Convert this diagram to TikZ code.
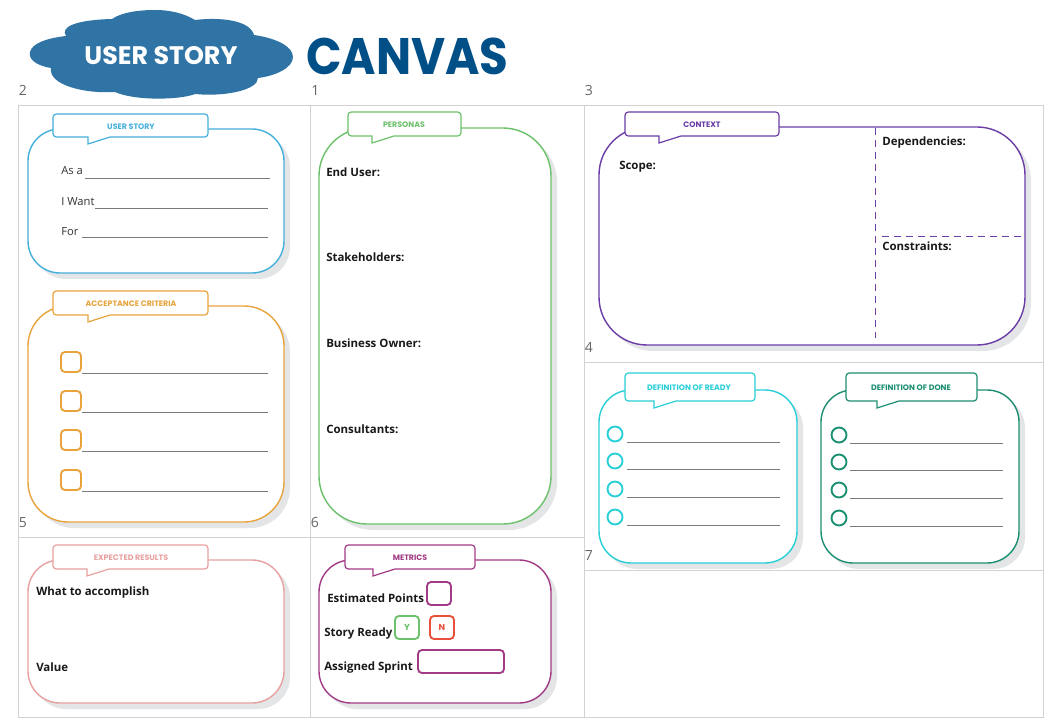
\documentclass[tikz,border=0pt]{standalone}
\usepackage{fontspec}
\setmainfont{Open Sans}
\newfontfamily\tabfont{Poppins}
\definecolor{gridgrey}{HTML}{D2D2D2}
\definecolor{numgrey}{HTML}{666666}
\definecolor{shadowgrey}{HTML}{E3E5E6}
\definecolor{rulegrey}{HTML}{7A7A7A}
\definecolor{cloudblue}{HTML}{2F74A5}
\definecolor{canvasblue}{HTML}{004F87}
\definecolor{storyblue}{HTML}{45B0DC}
\definecolor{criteriaorange}{HTML}{E8A33D}
\definecolor{personagreen}{HTML}{6CC16A}
\definecolor{contextpurple}{HTML}{6A3DA8}
\definecolor{readycyan}{HTML}{28CFD8}
\definecolor{donegreen}{HTML}{1B8F72}
\definecolor{resultpink}{HTML}{E9A0A0}
\definecolor{metricplum}{HTML}{A23B86}
\definecolor{noredline}{HTML}{E8503A}
\tikzset{
  gridline/.style={draw=gridgrey,line width=0.6pt},
  numlabel/.style={anchor=base west,inner sep=0,text=numgrey,font=\fontsize{10.5}{12}\selectfont},
  shadowcard/.style={fill=shadowgrey,rounded corners=#1},
  whitecard/.style={fill=white,line width=1.05pt,rounded corners=#1},
  tabbox/.style={fill=white,line width=0.9pt},
  tabtext/.style={inner sep=0,font=\tabfont\fontsize{5.9}{7}\selectfont\bfseries},
  cardtext/.style={anchor=base west,inner sep=0,text=black!90,font=\fontsize{8.6}{10}\selectfont\bfseries},
  plaintext/.style={anchor=base west,inner sep=0,text=black!80,font=\fontsize{8.4}{10}\selectfont},
  ruleline/.style={draw=rulegrey,line width=0.7pt},
  markbox/.style={line width=1.4pt,rounded corners=3pt},
  markring/.style={line width=1.4pt},
  dashline/.style={draw=contextpurple,line width=1pt,dash pattern=on 5pt off 4pt}
}
% name, x1, y1, x2, y2, radius, colour
\newcommand{\cardbox}[7]{
  \fill[shadowcard=#6pt] (#2+6,#3+6) rectangle (#4+6,#5+6);
  \draw[whitecard=#6pt,draw=#7] (#2,#3) rectangle (#4,#5);
  \coordinate (#1) at (#2,#3);
}
% name, x1, y1, x2, y2, tail left, text x, colour, text colour, text
\newcommand{\tabbubble}[9]{
  \draw[tabbox,draw=#8,rounded corners=2.5pt] (#2,#3) -- (#4,#3) -- (#4,#5)
    [sharp corners] -- (#6+22,#5) -- (#6,#5+7) -- (#6,#5) [rounded corners=2.5pt] -- (#2,#5) -- cycle;
  \node[tabtext,text=#9] (#1) at (#7,{(#3+#5)/2+1}) {\tabcaption};
}
\begin{document}
\begin{tikzpicture}[x=0.75pt,y=-0.75pt]
  \useasboundingbox (0,0) rectangle (1050,720);
  \fill[white] (0,0) rectangle (1050,720);
  % header
  \fill[cloudblue] (30,52) .. controls (32,43) and (48,38) .. (66,36)
    .. controls (60,27) and (75,20) .. (112,19) .. controls (122,12) and (140,10) .. (155,10)
    .. controls (172,10) and (185,14) .. (195,20) .. controls (220,17) and (250,20) .. (254,35)
    .. controls (275,38) and (293,46) .. (293,57) .. controls (293,68) and (275,76) .. (258,78)
    .. controls (258,90) and (225,97) .. (195,94) .. controls (180,100) and (135,101) .. (115,92)
    .. controls (85,94) and (48,85) .. (51,68) .. controls (38,66) and (28,60) .. (30,52) -- cycle;
  \node[text=white,inner sep=0,font=\tabfont\fontsize{19}{22}\selectfont\bfseries] (cloudtitle) at (161,56) {USER STORY};
  \node[text=canvasblue,inner sep=0,xscale=0.91,font=\tabfont\fontsize{38.5}{44}\selectfont\bfseries] (canvastitle) at (407.5,56) {CANVAS};
  % grid
  \draw[gridline] (18,105.5) rectangle (1043,717);
  \draw[gridline] (310,105.5) -- (310,717);
  \draw[gridline] (584,105.5) -- (584,717);
  \draw[gridline] (18,537.5) -- (584,537.5);
  \draw[gridline] (584,362) -- (1043,362);
  \draw[gridline] (584,570) -- (1043,570);
  \node[numlabel] (num2) at (18.5,96) {2};
  \node[numlabel] (num1) at (311,96) {1};
  \node[numlabel] (num3) at (584.5,96) {3};
  \node[numlabel] (num4) at (584.5,353) {4};
  \node[numlabel] (num5) at (18.5,527) {5};
  \node[numlabel] (num6) at (310.5,527) {6};
  \node[numlabel] (num7) at (584.5,560) {7};
  % cards
  \cardbox{storycard}{28}{129}{284}{273}{24}{storyblue}
  \cardbox{criteriacard}{28}{306}{284}{522}{30}{criteriaorange}
  \cardbox{personacard}{319}{128}{551}{524}{36}{personagreen}
  \cardbox{contextcard}{599}{127}{1025}{345}{36}{contextpurple}
  \cardbox{readycard}{599}{390}{797}{563}{24}{readycyan}
  \cardbox{donecard}{821}{390}{1019}{563}{24}{donegreen}
  \cardbox{resultcard}{28}{560}{284}{703}{24}{resultpink}
  \cardbox{metriccard}{319}{560}{551}{703}{24}{metricplum}
  % tabs
  \def\tabcaption{USER STORY}
  \tabbubble{storytab}{53}{114}{208}{137}{88}{131}{storyblue}{storyblue}
  \def\tabcaption{ACCEPTANCE CRITERIA}
  \tabbubble{criteriatab}{53}{291}{208}{315}{88}{131}{criteriaorange}{criteriaorange}
  \def\tabcaption{PERSONAS}
  \tabbubble{personatab}{348}{112}{461}{136}{372}{404}{personagreen}{personagreen}
  \def\tabcaption{CONTEXT}
  \tabbubble{contexttab}{625}{112}{779}{136}{659}{702}{contextpurple}{contextpurple}
  \def\tabcaption{DEFINITION OF READY}
  \tabbubble{readytab}{625}{373}{755}{401}{654}{689}{readycyan}{readycyan}
  \def\tabcaption{DEFINITION OF DONE}
  \tabbubble{donetab}{846}{373}{977}{401}{877}{911}{donegreen}{donegreen}
  \def\tabcaption{EXPECTED RESULTS}
  \tabbubble{resulttab}{53}{545}{208}{569}{87}{131}{resultpink}{resultpink}
  \def\tabcaption{METRICS}
  \tabbubble{metrictab}{345}{545}{475}{569}{373}{410}{metricplum}{metricplum}
  % user story
  \node[plaintext] (asa) at (61,175) {As a};
  \node[plaintext] (iwant) at (61,206) {I Want};
  \node[plaintext] (forwhom) at (61,236) {For};
  \draw[ruleline] (85,178) -- (270,178);
  \draw[ruleline] (95,208) -- (268,208);
  \draw[ruleline] (82,237) -- (268,237);
  % acceptance criteria
  \foreach \y in {352,391,430,470} {
    \draw[markbox,draw=criteriaorange] (61,\y) rectangle (81,\y+20);
    \draw[ruleline] (82,\y+21) -- (268,\y+21);
  }
  % personas
  \node[cardtext] (enduser) at (326,177) {End User:};
  \node[cardtext] (stakeholders) at (326,262) {Stakeholders:};
  \node[cardtext] (owner) at (326,348) {Business Owner:};
  \node[cardtext] (consultants) at (326,433) {Consultants:};
  % context
  \node[cardtext] (scope) at (619,170) {Scope:};
  \node[cardtext] (dependencies) at (882,146) {Dependencies:};
  \node[cardtext] (constraints) at (882,251) {Constraints:};
  \draw[dashline] (875.5,128) -- (875.5,338);
  \draw[dashline] (882,236.5) -- (1025,236.5);
  % definition of ready and done
  \foreach \y in {434,461,489,517} {
    \draw[markring,draw=readycyan] (615,\y) circle (7.5);
    \draw[ruleline] (627,\y+8) -- (780,\y+8);
    \draw[markring,draw=donegreen] (839,\y+1) circle (7.5);
    \draw[ruleline] (850,\y+9) -- (1003,\y+9);
  }
  % expected results
  \node[cardtext] (accomplish) at (36,595) {What to accomplish};
  \node[cardtext] (value) at (36,671) {Value};
  % metrics
  \node[cardtext] (points) at (327,602) {Estimated Points};
  \node[cardtext] (ready) at (324,636) {Story Ready};
  \node[cardtext] (sprint) at (324,670) {Assigned Sprint};
  \draw[markbox,draw=metricplum] (427,582) rectangle (451,605);
  \draw[markbox,draw=personagreen] (395,616) rectangle (419,639);
  \draw[markbox,draw=noredline] (430,616) rectangle (454,639);
  \draw[markbox,draw=metricplum] (418,650) rectangle (504,673);
  \node[inner sep=0,text=personagreen,font=\tabfont\fontsize{6.5}{8}\selectfont\bfseries] (yes) at (407,627.5) {Y};
  \node[inner sep=0,text=noredline,font=\tabfont\fontsize{6.5}{8}\selectfont\bfseries] (no) at (442,627.5) {N};
\end{tikzpicture}
\end{document}
